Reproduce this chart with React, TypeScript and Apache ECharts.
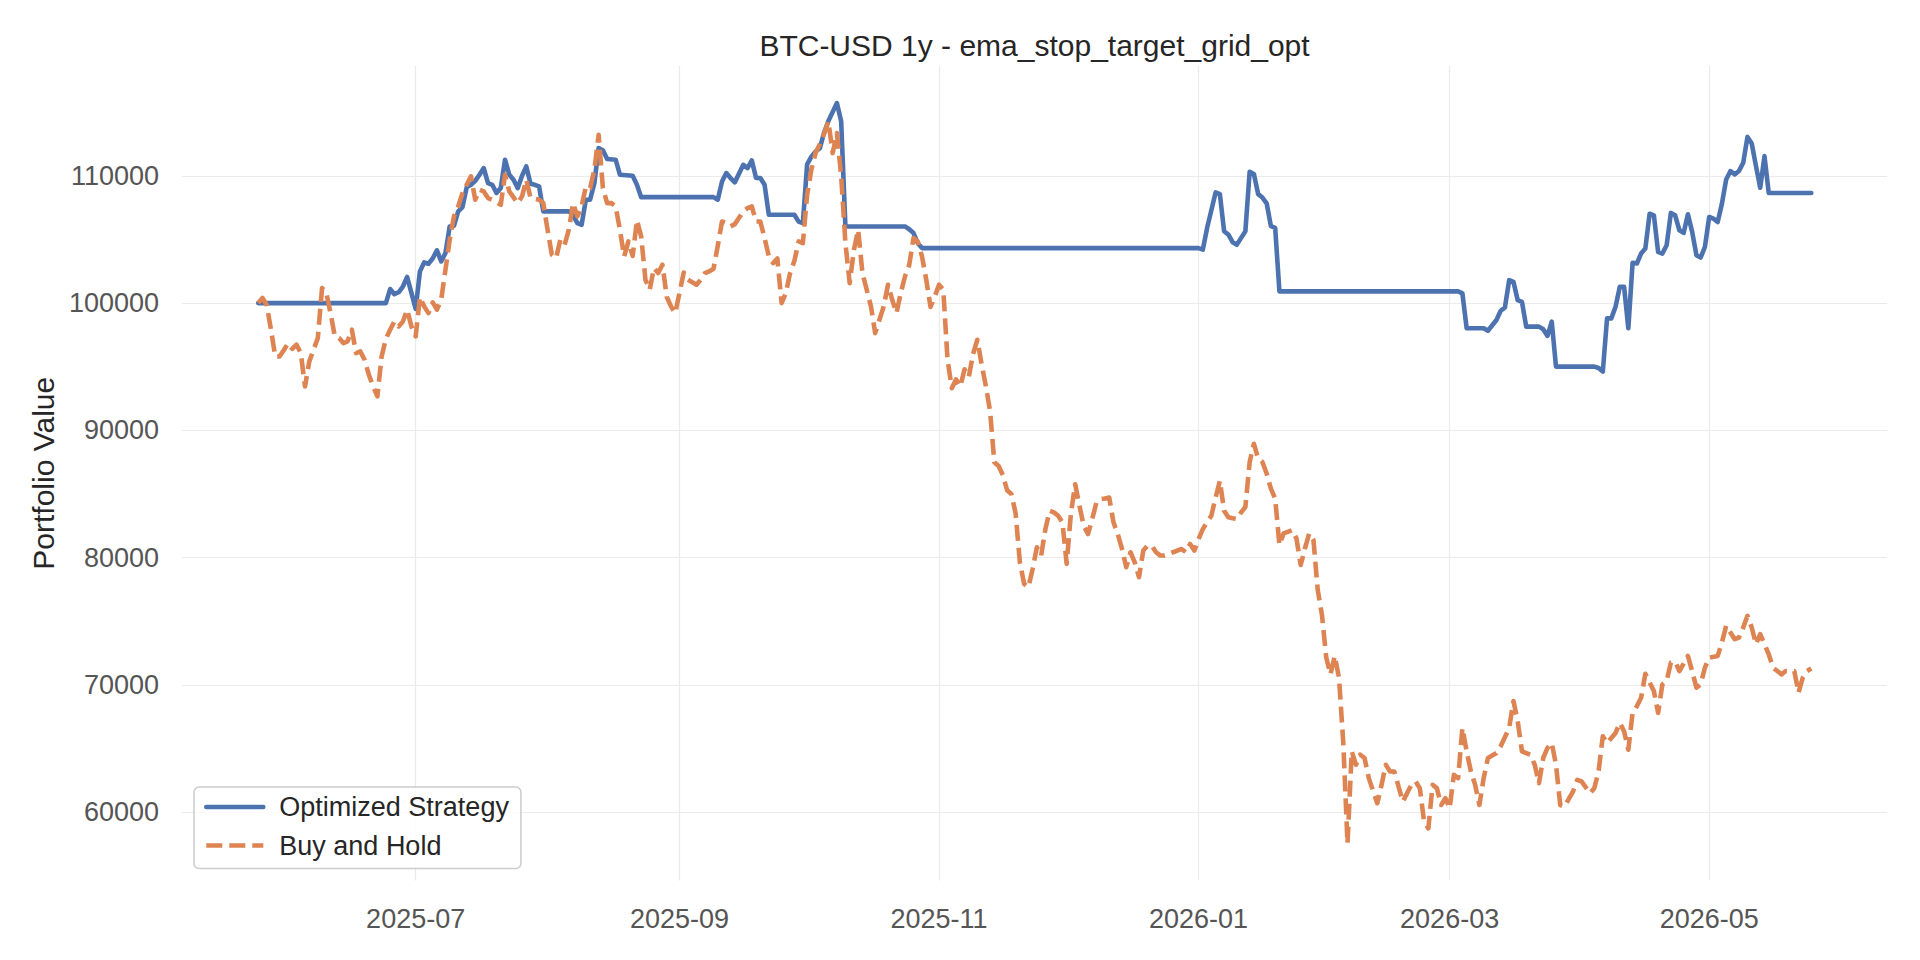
import React, { useEffect, useRef } from "react";
import * as echarts from "echarts";

// ---------- data ----------
const chartTitle = "BTC-USD 1y - ema_stop_target_grid_opt";
const yAxisTitle = "Portfolio Value";
const strategyName = "Optimized Strategy";
const buyHoldName = "Buy and Hold";

const xTickLabels = ["2025-07", "2025-09", "2025-11", "2026-01", "2026-03", "2026-05"];
const yTickValues = [60000, 70000, 80000, 90000, 100000, 110000];

const strategyDates = [
  "2025-05-25", "2025-06-23", "2025-06-24", "2025-06-25", "2025-06-26", "2025-06-27", "2025-06-28", "2025-06-29",
  "2025-06-30", "2025-07-01", "2025-07-02", "2025-07-03", "2025-07-04", "2025-07-05", "2025-07-06", "2025-07-07",
  "2025-07-08", "2025-07-09", "2025-07-10", "2025-07-11", "2025-07-12", "2025-07-13", "2025-07-14", "2025-07-15",
  "2025-07-16", "2025-07-17", "2025-07-18", "2025-07-19", "2025-07-20", "2025-07-21", "2025-07-22", "2025-07-23",
  "2025-07-24", "2025-07-25", "2025-07-26", "2025-07-27", "2025-07-28", "2025-07-29", "2025-07-30", "2025-07-31",
  "2025-08-06", "2025-08-07", "2025-08-08", "2025-08-09", "2025-08-10", "2025-08-11", "2025-08-12", "2025-08-13",
  "2025-08-14", "2025-08-15", "2025-08-17", "2025-08-18", "2025-08-21", "2025-08-22", "2025-08-23", "2025-09-09",
  "2025-09-10", "2025-09-11", "2025-09-12", "2025-09-13", "2025-09-14", "2025-09-16", "2025-09-17", "2025-09-18",
  "2025-09-19", "2025-09-20", "2025-09-21", "2025-09-22", "2025-09-28", "2025-09-29", "2025-09-30", "2025-10-01",
  "2025-10-02", "2025-10-03", "2025-10-04", "2025-10-05", "2025-10-06", "2025-10-07", "2025-10-08", "2025-10-09",
  "2025-10-10", "2025-10-24", "2025-10-25", "2025-10-26", "2025-10-27", "2025-10-28", "2026-01-01", "2026-01-02",
  "2026-01-03", "2026-01-05", "2026-01-06", "2026-01-07", "2026-01-08", "2026-01-09", "2026-01-10", "2026-01-11",
  "2026-01-12", "2026-01-13", "2026-01-14", "2026-01-15", "2026-01-16", "2026-01-17", "2026-01-18", "2026-01-19",
  "2026-01-20", "2026-03-03", "2026-03-04", "2026-03-05", "2026-03-09", "2026-03-10", "2026-03-12", "2026-03-13",
  "2026-03-14", "2026-03-15", "2026-03-16", "2026-03-17", "2026-03-18", "2026-03-19", "2026-03-22", "2026-03-23",
  "2026-03-24", "2026-03-25", "2026-03-26", "2026-04-04", "2026-04-05", "2026-04-06", "2026-04-07", "2026-04-08",
  "2026-04-09", "2026-04-10", "2026-04-11", "2026-04-12", "2026-04-13", "2026-04-14", "2026-04-15", "2026-04-16",
  "2026-04-17", "2026-04-18", "2026-04-19", "2026-04-20", "2026-04-21", "2026-04-22", "2026-04-23", "2026-04-24",
  "2026-04-25", "2026-04-26", "2026-04-27", "2026-04-28", "2026-04-29", "2026-04-30", "2026-05-01", "2026-05-02",
  "2026-05-03", "2026-05-04", "2026-05-05", "2026-05-06", "2026-05-07", "2026-05-08", "2026-05-09", "2026-05-10",
  "2026-05-11", "2026-05-12", "2026-05-13", "2026-05-14", "2026-05-15", "2026-05-25",
];
const strategyValues = [
  100000, 100000, 100000, 101100, 100700, 100850, 101300, 102050,
  100800, 99550, 102490, 103190, 103090, 103500, 104140, 103270,
  103930, 106020, 106070, 107200, 107540, 109100, 109290, 109600,
  110080, 110600, 109420, 109290, 108640, 109030, 111260, 110080,
  109690, 109030, 110000, 110730, 109370, 109290, 109160, 107200,
  107200, 106890, 106280, 106150, 108120, 108120, 109420, 112170,
  112000, 111310, 111260, 110080, 110000, 109290, 108320, 108320,
  108120, 109550, 110210, 109820, 109480, 110860, 110600, 111200,
  109820, 109820, 109290, 106940, 106940, 106400, 106280, 110900,
  111500, 111900, 112170, 113400, 114300, 115000, 115710, 114270,
  106020, 106020, 105800, 105500, 104700, 104320, 104320, 104200,
  105900, 108690, 108560, 105640, 105380, 104780, 104590, 105120,
  105640, 110310, 110130, 108560, 108290, 107840, 106040, 105910,
  100920, 100920, 100760, 98020, 98020, 97830, 98670, 99400,
  99660, 101800, 101670, 100230, 100100, 98150, 98150, 97940,
  97420, 98540, 95010, 95010, 94900, 94620, 98800, 98800,
  99710, 101280, 101280, 98020, 103160, 103110, 103890, 104280,
  107020, 106890, 104020, 103890, 104540, 107080, 106890, 105720,
  105510, 106970, 105590, 103760, 103580, 104410, 106760, 106630,
  106370, 107810, 109710, 110370, 110110, 110370, 111020, 113050,
  112530, 110760, 109060, 111540, 108640, 108640,
];

const buyHoldDates = [
  "2025-05-25", "2025-05-26", "2025-05-27", "2025-05-28", "2025-05-29", "2025-05-30", "2025-05-31", "2025-06-01",
  "2025-06-02", "2025-06-03", "2025-06-04", "2025-06-05", "2025-06-06", "2025-06-07", "2025-06-08", "2025-06-09",
  "2025-06-10", "2025-06-11", "2025-06-12", "2025-06-13", "2025-06-14", "2025-06-15", "2025-06-16", "2025-06-17",
  "2025-06-18", "2025-06-19", "2025-06-20", "2025-06-21", "2025-06-22", "2025-06-23", "2025-06-24", "2025-06-25",
  "2025-06-26", "2025-06-27", "2025-06-28", "2025-06-29", "2025-06-30", "2025-07-01", "2025-07-02", "2025-07-03",
  "2025-07-04", "2025-07-05", "2025-07-06", "2025-07-07", "2025-07-08", "2025-07-09", "2025-07-10", "2025-07-11",
  "2025-07-12", "2025-07-14", "2025-07-15", "2025-07-16", "2025-07-17", "2025-07-18", "2025-07-19", "2025-07-21",
  "2025-07-22", "2025-07-23", "2025-07-25", "2025-07-26", "2025-07-27", "2025-07-28", "2025-07-30", "2025-07-31",
  "2025-08-01", "2025-08-02", "2025-08-03", "2025-08-04", "2025-08-05", "2025-08-06", "2025-08-07", "2025-08-08",
  "2025-08-09", "2025-08-10", "2025-08-11", "2025-08-12", "2025-08-13", "2025-08-14", "2025-08-15", "2025-08-16",
  "2025-08-17", "2025-08-18", "2025-08-19", "2025-08-20", "2025-08-21", "2025-08-22", "2025-08-23", "2025-08-24",
  "2025-08-25", "2025-08-26", "2025-08-27", "2025-08-28", "2025-08-29", "2025-08-30", "2025-08-31", "2025-09-01",
  "2025-09-02", "2025-09-03", "2025-09-05", "2025-09-06", "2025-09-07", "2025-09-08", "2025-09-09", "2025-09-10",
  "2025-09-11", "2025-09-12", "2025-09-13", "2025-09-14", "2025-09-15", "2025-09-16", "2025-09-17", "2025-09-18",
  "2025-09-19", "2025-09-20", "2025-09-21", "2025-09-22", "2025-09-23", "2025-09-24", "2025-09-25", "2025-09-26",
  "2025-09-27", "2025-09-28", "2025-09-29", "2025-09-30", "2025-10-01", "2025-10-02", "2025-10-03", "2025-10-04",
  "2025-10-05", "2025-10-06", "2025-10-07", "2025-10-08", "2025-10-09", "2025-10-10", "2025-10-11", "2025-10-12",
  "2025-10-13", "2025-10-14", "2025-10-16", "2025-10-17", "2025-10-18", "2025-10-19", "2025-10-20", "2025-10-21",
  "2025-10-22", "2025-10-23", "2025-10-24", "2025-10-25", "2025-10-26", "2025-10-27", "2025-10-28", "2025-10-29",
  "2025-10-30", "2025-10-31", "2025-11-01", "2025-11-02", "2025-11-03", "2025-11-04", "2025-11-05", "2025-11-06",
  "2025-11-07", "2025-11-08", "2025-11-09", "2025-11-10", "2025-11-11", "2025-11-12", "2025-11-13", "2025-11-14",
  "2025-11-15", "2025-11-16", "2025-11-17", "2025-11-18", "2025-11-19", "2025-11-20", "2025-11-21", "2025-11-22",
  "2025-11-23", "2025-11-24", "2025-11-25", "2025-11-26", "2025-11-27", "2025-11-28", "2025-11-29", "2025-11-30",
  "2025-12-01", "2025-12-02", "2025-12-03", "2025-12-04", "2025-12-05", "2025-12-06", "2025-12-07", "2025-12-08",
  "2025-12-09", "2025-12-10", "2025-12-11", "2025-12-12", "2025-12-13", "2025-12-14", "2025-12-15", "2025-12-16",
  "2025-12-17", "2025-12-18", "2025-12-19", "2025-12-20", "2025-12-21", "2025-12-22", "2025-12-23", "2025-12-24",
  "2025-12-25", "2025-12-26", "2025-12-27", "2025-12-28", "2025-12-29", "2025-12-30", "2025-12-31", "2026-01-01",
  "2026-01-02", "2026-01-03", "2026-01-04", "2026-01-05", "2026-01-06", "2026-01-07", "2026-01-08", "2026-01-09",
  "2026-01-10", "2026-01-11", "2026-01-12", "2026-01-13", "2026-01-14", "2026-01-15", "2026-01-16", "2026-01-17",
  "2026-01-18", "2026-01-19", "2026-01-20", "2026-01-21", "2026-01-23", "2026-01-24", "2026-01-25", "2026-01-26",
  "2026-01-27", "2026-01-28", "2026-01-29", "2026-01-30", "2026-01-31", "2026-02-01", "2026-02-02", "2026-02-03",
  "2026-02-04", "2026-02-05", "2026-02-06", "2026-02-07", "2026-02-08", "2026-02-09", "2026-02-10", "2026-02-11",
  "2026-02-12", "2026-02-13", "2026-02-14", "2026-02-15", "2026-02-16", "2026-02-17", "2026-02-18", "2026-02-19",
  "2026-02-20", "2026-02-21", "2026-02-22", "2026-02-23", "2026-02-24", "2026-02-25", "2026-02-26", "2026-02-27",
  "2026-02-28", "2026-03-01", "2026-03-02", "2026-03-03", "2026-03-04", "2026-03-05", "2026-03-06", "2026-03-07",
  "2026-03-08", "2026-03-09", "2026-03-10", "2026-03-12", "2026-03-13", "2026-03-15", "2026-03-16", "2026-03-17",
  "2026-03-18", "2026-03-20", "2026-03-21", "2026-03-22", "2026-03-23", "2026-03-24", "2026-03-25", "2026-03-26",
  "2026-03-27", "2026-03-28", "2026-03-30", "2026-03-31", "2026-04-01", "2026-04-03", "2026-04-04", "2026-04-05",
  "2026-04-06", "2026-04-07", "2026-04-09", "2026-04-10", "2026-04-11", "2026-04-12", "2026-04-13", "2026-04-14",
  "2026-04-15", "2026-04-16", "2026-04-18", "2026-04-19", "2026-04-20", "2026-04-21", "2026-04-22", "2026-04-23",
  "2026-04-24", "2026-04-26", "2026-04-27", "2026-04-28", "2026-04-29", "2026-04-30", "2026-05-01", "2026-05-03",
  "2026-05-04", "2026-05-05", "2026-05-07", "2026-05-08", "2026-05-09", "2026-05-10", "2026-05-11", "2026-05-12",
  "2026-05-13", "2026-05-15", "2026-05-16", "2026-05-18", "2026-05-19", "2026-05-21", "2026-05-22", "2026-05-23",
  "2026-05-24", "2026-05-25",
];
const buyHoldValues = [
  100000, 100400, 99850, 97900, 95800, 95800, 96300, 96850,
  96400, 96730, 96070, 93450, 95420, 96330, 97250, 101180,
  100790, 99210, 97380, 97250, 96860, 97000, 97910, 96070,
  96200, 95550, 94370, 93450, 92670, 95810, 97200, 97900,
  98560, 98170, 98560, 99480, 98170, 97380, 100470, 99740,
  99210, 100050, 99480, 100260, 102620, 104970, 106810, 107590,
  108640, 109950, 108120, 108900, 108770, 108250, 108120, 107720,
  110080, 108770, 107850, 108380, 109690, 108250, 108120, 107850,
  105760, 103800, 103530, 104970, 104580, 105760, 107850, 106810,
  107590, 109160, 109030, 110470, 113220, 109030, 107850, 107850,
  107590, 105760, 103660, 104840, 103700, 106500, 105240, 101830,
  101050, 102750, 102360, 103010, 100500, 99740, 99210, 100790,
  102400, 101830, 101440, 101830, 102360, 102490, 102700, 104500,
  106410, 106280, 106020, 106200, 106700, 107200, 107460, 107590,
  106410, 106410, 105110, 103660, 103140, 103500, 100000, 100790,
  102360, 103300, 104840, 104710, 108500, 110500, 111800, 112500,
  113300, 114270, 111780, 113350, 110000, 104710, 101570, 104190,
  105760, 102360, 99740, 97640, 98690, 99740, 101440, 100260,
  99210, 100790, 102090, 103000, 105110, 104840, 103660, 101830,
  99700, 100520, 101440, 101050, 95550, 93320, 94000, 93450,
  94800, 94200, 96000, 97120, 95200, 93500, 91500, 87500,
  87200, 86500, 85300, 85000, 83500, 79640, 77950, 77690,
  79120, 80820, 80170, 82250, 83690, 83560, 83300, 82780,
  79520, 83500, 85770, 84080, 82510, 81860, 83040, 84340,
  84600, 84650, 84730, 82780, 81860, 80690, 79260, 80430,
  79640, 78470, 80560, 80950, 80950, 80430, 80170, 80170,
  80300, 80430, 80560, 80690, 80430, 81080, 80560, 81470,
  82250, 82800, 83300, 84730, 86040, 83690, 83170, 83100,
  83040, 83560, 84000, 87500, 88950, 87800, 87520, 86610,
  85430, 84650, 81000, 81910, 82170, 81520, 79430, 80730,
  81910, 81390, 77470, 75500, 72160, 70840, 72290, 70580,
  65500, 57560, 64790, 63740, 64530, 64270, 62690, 61700,
  60720, 62160, 63740, 63210, 63210, 62030, 60850, 61500,
  62160, 62430, 61900, 59270, 58740, 62160, 61900, 60580,
  61110, 60320, 62950, 62690, 66630, 64790, 63210, 62160,
  60580, 62690, 64270, 64660, 65190, 66630, 68740, 67160,
  64790, 64530, 63740, 62290, 64270, 65060, 65450, 63740,
  60580, 60450, 61640, 62560, 62430, 61510, 61900, 63210,
  65980, 65450, 66240, 67030, 66370, 64920, 67820, 68340,
  69000, 70890, 69530, 67820, 70050, 70320, 71760, 71840,
  71100, 72290, 71100, 69790, 70050, 71370, 72160, 72290,
  73340, 74660, 73600, 73730, 74520, 75440, 74520, 73210,
  74000, 72420, 71370, 70840, 71100, 71100, 69400, 70580,
  71100, 71300,
];

// ---------- helpers ----------
const toTs = (s: string) => new Date(s.length <= 10 ? s + "T00:00:00" : s).getTime();
const X_MIN = "2025-05-07T02:00:00";
const X_MAX = "2026-06-11T19:00:00";
const Y_MIN = 54650;
const Y_MAX = 118620;
const FONT = "'Liberation Sans', Arial, 'DejaVu Sans', sans-serif";

const pairs = (d: string[], v: number[]) => d.map((s, i) => [toTs(s), v[i]]);

export default function App() {
  const ref = useRef<HTMLDivElement>(null);

  useEffect(() => {
    if (!ref.current) return;
    const chart = echarts.init(ref.current, undefined, { renderer: "svg" });
    const xTicks = xTickLabels.map((m) => toTs(m + "-01"));
    const fmtMonth = (v: number) => {
      const i = xTicks.indexOf(v);
      if (i >= 0) return xTickLabels[i];
      const d = new Date(v);
      return `${d.getFullYear()}-${String(d.getMonth() + 1).padStart(2, "0")}`;
    };
    chart.setOption({
      animation: false,
      backgroundColor: "#ffffff",
      textStyle: { fontFamily: FONT },
      title: {
        text: chartTitle,
        left: 1034.5,
        top: 30,
        textAlign: "center",
        padding: 0,
        textStyle: { fontSize: 30, fontWeight: "normal", color: "#262626", fontFamily: FONT, lineHeight: 30 },
      },
      grid: { left: 182, top: 66, width: 1705, height: 814.5, containLabel: false },
      xAxis: {
        type: "value",
        min: toTs(X_MIN),
        max: toTs(X_MAX),
        axisLine: { show: false },
        axisTick: { show: false, customValues: xTicks },
        axisLabel: {
          customValues: xTicks,
          formatter: (v: number) => fmtMonth(v),
          fontSize: 27,
          color: "#555555",
          margin: 25,
          fontFamily: FONT,
        },
        splitLine: { show: true, lineStyle: { color: "#ebebeb", width: 1.2 } },
      },
      yAxis: {
        type: "value",
        min: Y_MIN,
        max: Y_MAX,
        name: yAxisTitle,
        nameLocation: "middle",
        nameGap: 124,
        nameRotate: 90,
        nameTextStyle: { fontSize: 30, color: "#262626", fontFamily: FONT },
        axisLine: { show: false },
        axisTick: { show: false, customValues: yTickValues },
        axisLabel: {
          customValues: yTickValues,
          formatter: (v: number) => String(v),
          fontSize: 27,
          color: "#555555",
          margin: 23,
          fontFamily: FONT,
        },
        splitLine: { show: true, lineStyle: { color: "#ebebeb", width: 1.2 } },
      },
      legend: {
        orient: "vertical",
        left: 194,
        top: 787,
        padding: [5.5, 12, 8.5, 10],
        itemWidth: 57,
        itemHeight: 14,
        itemGap: 9.5,
        backgroundColor: "rgba(255,255,255,0.8)",
        borderColor: "#cccccc",
        borderWidth: 1.5,
        borderRadius: 5,
        data: [strategyName, buyHoldName],
        itemStyle: { opacity: 0 },
        lineStyle: { width: "inherit" },
        textStyle: {
          fontSize: 27,
          color: "#262626",
          fontFamily: FONT,
          lineHeight: 29,
          padding: [0, 0, 0, 11],
        },
      },
      series: [
        {
          name: strategyName,
          type: "line",
          data: pairs(strategyDates, strategyValues),
          symbol: "none",
          showSymbol: false,
          lineStyle: { color: "#4C72B0", width: 4.6, cap: "round", join: "round" },
          itemStyle: { color: "#4C72B0" },
          z: 2,
        },
        {
          name: buyHoldName,
          type: "line",
          data: pairs(buyHoldDates, buyHoldValues),
          symbol: "none",
          showSymbol: false,
          lineStyle: { color: "#DD8452", width: 4.6, type: [16, 7], cap: "butt", join: "round" },
          itemStyle: { color: "#DD8452" },
          z: 3,
        },
      ],
    });
    return () => chart.dispose();
  }, []);

  return (
    <div
      ref={ref}
      style={{ position: "fixed", left: 0, top: 0, width: 1920, height: 960, background: "#fff" }}
    />
  );
}
